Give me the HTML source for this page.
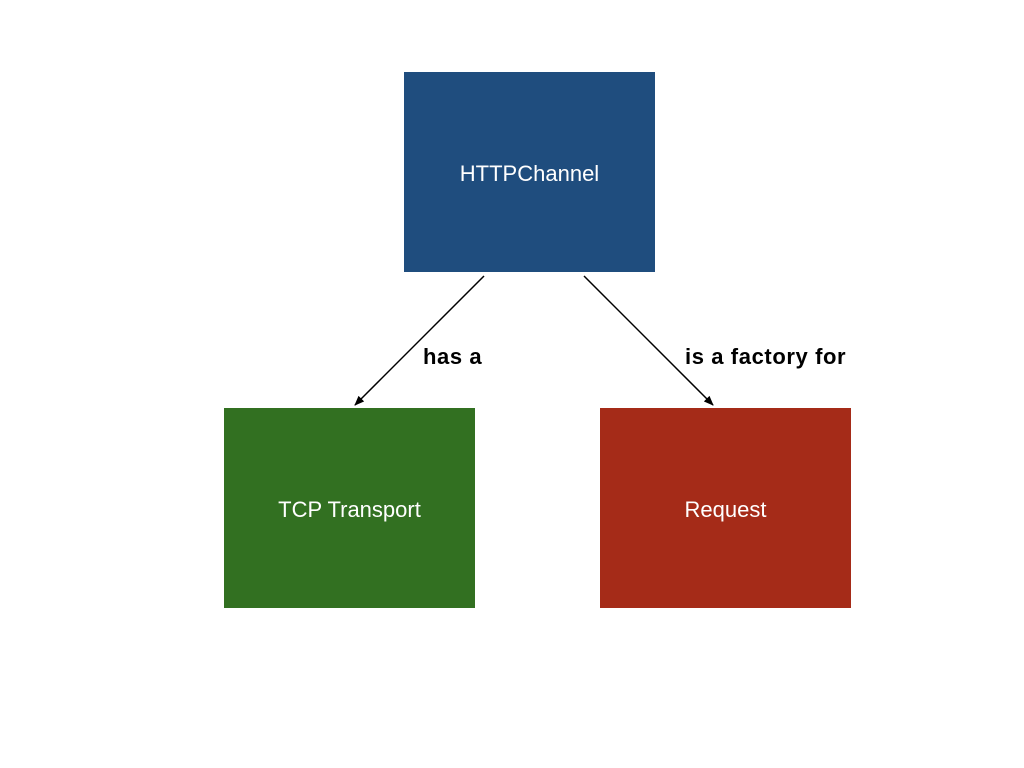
<!DOCTYPE html>
<html><head><meta charset="utf-8"><style>
body{margin:0;width:1024px;height:768px;background:#fff;position:relative;overflow:hidden;font-family:"Liberation Sans",Arial,sans-serif}
.b{position:absolute;width:251px;height:200px;color:#fff;font-size:22px;display:flex;align-items:center;justify-content:center;padding-top:3px;box-sizing:border-box}
.l{position:absolute;font-size:22px;font-weight:bold;color:#000;line-height:24px;letter-spacing:0.6px}
</style></head><body>
<div class="b" style="left:404px;top:72px;background:#1f4d7e">HTTPChannel</div>
<div class="b" style="left:224px;top:408px;background:#327021">TCP Transport</div>
<div class="b" style="left:600px;top:408px;background:#a52b18">Request</div>
<svg width="1024" height="768" style="position:absolute;left:0;top:0">
<defs><marker id="a" markerWidth="10" markerHeight="8" refX="9" refY="4" orient="auto" markerUnits="userSpaceOnUse"><path d="M0,0 L10,4 L0,8 z" fill="#000"/></marker></defs>
<line x1="484" y1="276" x2="355" y2="405" stroke="#000" stroke-width="1.5" marker-end="url(#a)"/>
<line x1="584" y1="276" x2="713" y2="405" stroke="#000" stroke-width="1.5" marker-end="url(#a)"/>
</svg>
<div class="l" style="left:423px;top:345px">has a</div>
<div class="l" style="left:685px;top:345px">is a factory for</div>
</body></html>
